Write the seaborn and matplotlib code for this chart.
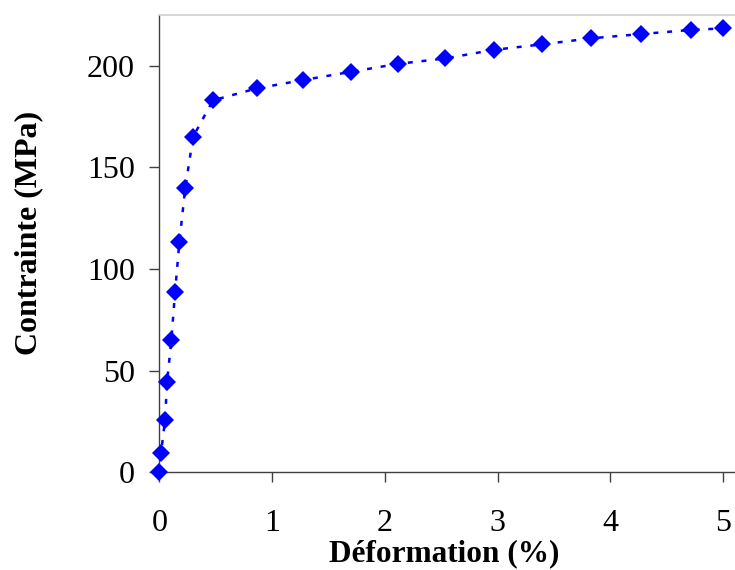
import matplotlib
matplotlib.use("Agg")
import matplotlib.pyplot as plt
import seaborn as sns
import pandas as pd

# Data
deformation = [0.0, 0.016, 0.051, 0.069, 0.107, 0.14, 0.178, 0.23, 0.30, 0.476,
               0.867, 1.278, 1.698, 2.112, 2.535, 2.964, 3.39, 3.83, 4.274, 4.715, 5.0]
contrainte = [0.0, 9.7, 25.6, 44.3, 65.0, 88.7, 113.0, 139.8, 165.0, 182.9,
              188.8, 192.9, 196.9, 200.8, 203.5, 207.7, 210.4, 213.4, 215.5, 217.5, 218.3]
x_ticks = [0, 1, 2, 3, 4, 5]
y_ticks = [0, 50, 100, 150, 200]
x_label = "Déformation (%)"
y_label = "Contrainte (MPa)"

df = pd.DataFrame({"x": deformation, "y": contrainte})

sns.set_style("white")
plt.rcParams["font.family"] = ["Liberation Serif", "DejaVu Serif"]
plt.rcParams["text.color"] = "black"
plt.rcParams["axes.labelcolor"] = "black"

fig = plt.figure(figsize=(7.35, 5.7), dpi=100)
ax = fig.add_axes([0.2167, 0.1714, 1 - 0.2167, 0.9742 - 0.1714])

sns.lineplot(data=df, x="x", y="y", sort=False, ax=ax, color="#0000FF",
             linewidth=1.8, linestyle=(0, (2, 3.5)), marker="D", markersize=8.7,
             markeredgecolor="#0000FF", markerfacecolor="#0000FF", markeredgewidth=0,
             clip_on=False, zorder=5)

ax.set_xlim(0, 5.104)
ax.set_ylim(0, 225)
ax.set_xticks(x_ticks)
ax.set_yticks(y_ticks)
ax.set_xticklabels([str(t) for t in x_ticks])
ax.set_yticklabels([str(t) for t in y_ticks])

ax.tick_params(axis="both", direction="out", length=7.2, width=1.0, color="#404040",
               labelsize=23, labelcolor="black")
ax.tick_params(axis="x", pad=19, bottom=True)
ax.tick_params(axis="y", pad=10.5, left=True)

for s in ["left", "bottom"]:
    ax.spines[s].set_color("#404040")
    ax.spines[s].set_linewidth(1.0)
ax.spines["top"].set_color("#d0d0d0")
ax.spines["top"].set_linewidth(1.2)
ax.spines["right"].set_visible(False)

ax.set_xlabel(x_label, fontsize=22.5, fontweight="bold", color="black")
ax.set_ylabel(y_label, fontsize=23, fontweight="bold", color="black")
ax.xaxis.set_label_coords(0.495, -0.147)
ax.yaxis.set_label_coords(-0.202, 0.523)
ax.grid(False)

fig.savefig("out.png", dpi=100)
